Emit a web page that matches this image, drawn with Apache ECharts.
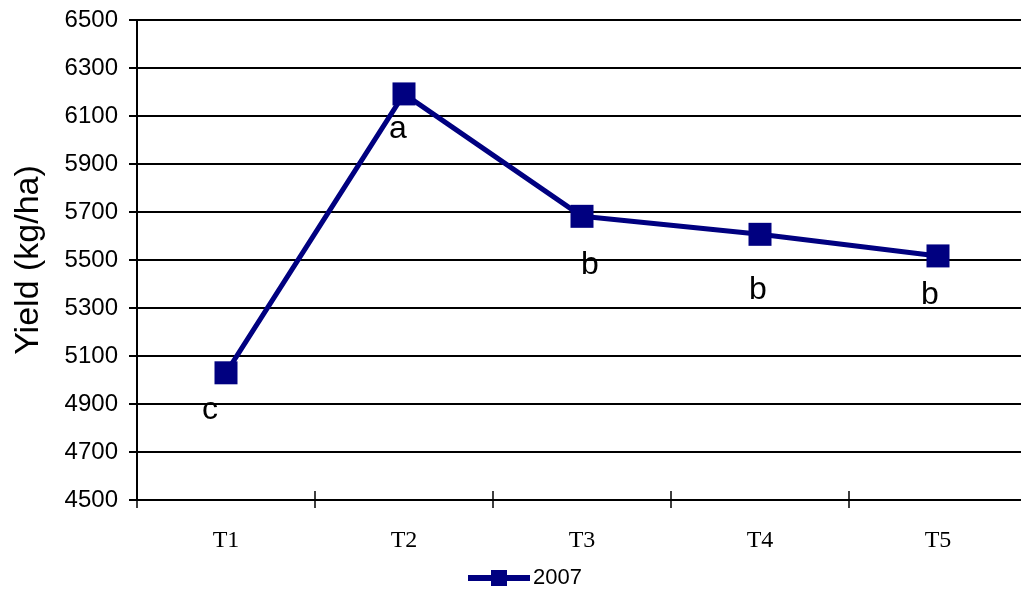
<!DOCTYPE html>
<html>
<head>
<meta charset="utf-8">
<script src="https://cdn.jsdelivr.net/npm/echarts@6/dist/echarts.min.js"></script>
<style>html,body{margin:0;padding:0;background:#fff;}#c{width:1021px;height:591px;}</style>
</head>
<body>
<div id="c"></div>
<script>
var categories = ['T1', 'T2', 'T3', 'T4', 'T5'];
var yield2007 = [5030, 6192, 5682, 5607, 5517];
var letters = ['c', 'a', 'b', 'b', 'b'];
var seriesName = '2007';
var yTicks = { min: 4500, max: 6500, interval: 200 };

var labelOffsets = [[-16, 37], [-6, 35], [8, 49], [-2, 56], [-8, 39]];
var dataItems = yield2007.map(function (v, i) {
  return {
    value: v,
    label: {
      show: true,
      formatter: letters[i],
      position: 'inside',
      offset: labelOffsets[i],
      fontFamily: 'Liberation Sans, Arial, sans-serif',
      fontSize: 32,
      color: '#000'
    }
  };
});

var sansFont = 'Liberation Sans, Arial, sans-serif';
var chart = echarts.init(document.getElementById('c'), null, { renderer: 'canvas' });
chart.setOption({
  animation: false,
  backgroundColor: '#fff',
  grid: { left: 137, top: 20, width: 890, bottom: 91, containLabel: false, outerBoundsMode: 'none' },
  legend: {
    data: [seriesName],
    top: 562,
    left: 463,
    itemWidth: 62,
    itemHeight: 16,
    itemGap: 4,
    icon: 'path://M0,5H23V0H39V5H62V11H39V16H23V11H0Z',
    textStyle: { fontFamily: sansFont, fontSize: 22, color: '#000', padding: [0, 0, 0, -2] }
  },
  xAxis: [{
    type: 'category',
    data: categories,
    boundaryGap: true,
    axisLine: { lineStyle: { color: '#000', width: 2 } },
    axisTick: { show: true, length: -9, lineStyle: { color: '#000', width: 1.5 } },
    axisLabel: { margin: 29, fontFamily: 'Liberation Serif, Times New Roman, serif', fontSize: 24, color: '#000' },
    splitLine: { show: false }
  }, {
    type: 'category',
    data: categories,
    position: 'bottom',
    boundaryGap: true,
    axisLine: { show: false },
    axisTick: { show: true, length: 8, lineStyle: { color: '#000', width: 1.5 } },
    axisLabel: { show: false },
    splitLine: { show: false }
  }],
  yAxis: {
    type: 'value',
    min: yTicks.min,
    max: yTicks.max,
    interval: yTicks.interval,
    name: 'Yield (kg/ha)',
    nameLocation: 'middle',
    nameGap: 91,
    nameTextStyle: { fontFamily: sansFont, fontSize: 34, color: '#000' },
    axisLine: { show: true, lineStyle: { color: '#000', width: 2 } },
    axisTick: { show: true, length: 8, lineStyle: { color: '#000', width: 2 } },
    axisLabel: { margin: 19, fontFamily: sansFont, fontSize: 24, color: '#000', formatter: function (v) { return String(v); } },
    splitLine: { show: true, lineStyle: { color: '#000', width: 2 } }
  },
  series: [{
    name: seriesName,
    type: 'line',
    xAxisIndex: 0,
    data: dataItems,
    symbol: 'rect',
    symbolSize: 23,
    lineStyle: { color: '#000080', width: 5 },
    itemStyle: { color: '#000080' },
    z: 5
  }]
});
</script>
</body>
</html>
